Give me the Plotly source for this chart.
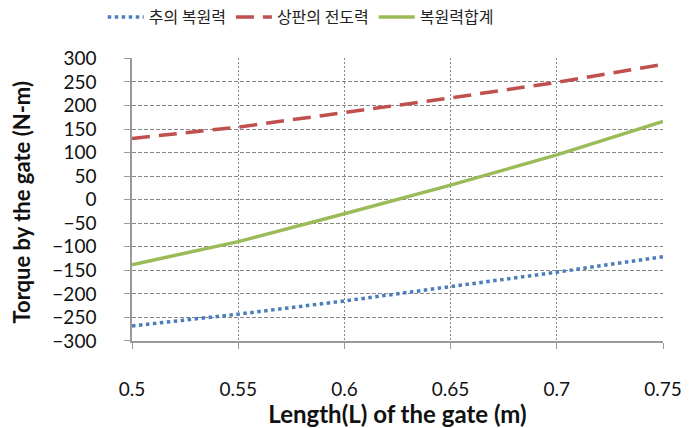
import plotly.graph_objects as go

# Gate length (m)
length_m = [0.5, 0.55, 0.6, 0.65, 0.7, 0.75]

# Torque series (N-m)
weight_restoring = [-268, -243, -215, -185, -154, -121]   # 추의 복원력
plate_overturning = [130, 154, 185, 216, 249, 287]        # 상판의 전도력
restoring_total = [-138, -89, -30, 31, 95, 166]           # 복원력합계

y_ticks = list(range(-300, 301, 50))
x_ticks = [0.5, 0.55, 0.6, 0.65, 0.7, 0.75]
x_tick_text = ["0.5", "0.55", "0.6", "0.65", "0.7", "0.75"]

kr_font = "Noto Sans CJK KR"
num_font = "Lato"

fig = go.Figure()
fig.add_trace(go.Scatter(
    x=length_m, y=weight_restoring, mode="lines", name="추의 복원력",
    line=dict(color="#4a7ebb", width=3.5, dash="dot"),
))
fig.add_trace(go.Scatter(
    x=length_m, y=plate_overturning, mode="lines", name="상판의 전도력",
    line=dict(color="#c0504d", width=3.5, dash="18px,9px"),
))
fig.add_trace(go.Scatter(
    x=length_m, y=restoring_total, mode="lines", name="복원력합계",
    line=dict(color="#9bbb59", width=3.5),
))

grid_col = "#888888"
fig.update_layout(
    width=694, height=428,
    margin=dict(l=132, r=26, t=57, b=84),
    paper_bgcolor="white", plot_bgcolor="white",
    showlegend=True,
    legend=dict(
        orientation="h", x=0.148, y=1.0, xref="container", yref="container",
        xanchor="left", yanchor="top",
        font=dict(family=kr_font, size=16, color="#222"),
        itemwidth=36, tracegroupgap=0,
    ),
    xaxis=dict(
        range=[0.5, 0.75], tickvals=x_ticks, ticktext=x_tick_text,
        showgrid=True, gridcolor=grid_col, griddash="2px,2px", gridwidth=1,
        showline=True, linecolor="#9a9a9a", linewidth=1.5,
        ticks="outside", ticklen=6, tickcolor="#9a9a9a",
        ticklabelstandoff=24,
        tickfont=dict(family=num_font, size=19, color="#111"),
        title=dict(text="<b>Length(L) of the gate (m)</b>", standoff=0,
                   font=dict(family=num_font, size=24, color="#111")),
        zeroline=False, mirror=False,
    ),
    yaxis=dict(
        range=[-300, 300], tickvals=y_ticks,
        showgrid=True, gridcolor=grid_col, griddash="4px,2px", gridwidth=1,
        showline=True, linecolor="#9a9a9a", linewidth=1.5,
        ticks="outside", ticklen=6, tickcolor="#9a9a9a",
        ticklabelstandoff=24,
        tickfont=dict(family=num_font, size=19, color="#111"),
        zeroline=False,
    ),
    annotations=[dict(
        text="<b>Torque by the gate (N-m)</b>", textangle=-90,
        xref="paper", yref="paper", x=0, y=0.49,
        xanchor="center", yanchor="middle", xshift=-110, showarrow=False,
        font=dict(family=num_font, size=22, color="#111"),
    )],
)

fig.write_html("out.html")
